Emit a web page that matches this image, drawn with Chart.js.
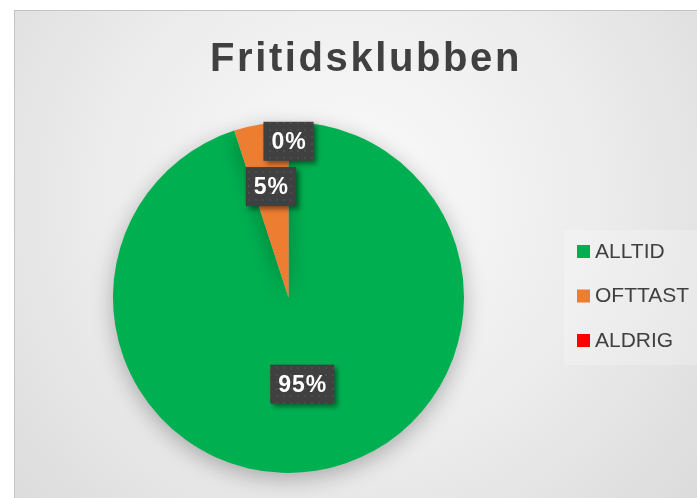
<!DOCTYPE html>
<html lang="sv">
<head>
  <meta charset="UTF-8" />
  <title>Fritidsklubben</title>
  <script src="https://cdn.jsdelivr.net/npm/chart.js"></script>
  <style>
    body {
      margin: 0;
      background: #fff;
      font-family: "Liberation Sans", Arial, sans-serif;
    }
    #frame {
      position: absolute;
      left: 14px;
      top: 10px;
      width: 700px;
      height: 500px;
      border-left: 1px solid #c4c4c4;
      border-top: 1px solid #c4c4c4;
      background: radial-gradient(circle at 335px 190px, #fbfbfb 0px, #ececec 250px, #d6d6d6 520px);
    }
    #chart-container {
      position: absolute;
      left: 0;
      top: 0;
      width: 697px;
      height: 498px;
    }
  </style>
</head>
<body>
  <div id="frame"></div>
  <div id="chart-container">
    <canvas id="pieChart"></canvas>
  </div>

  <script>
    const categories = ['ALLTID', 'OFTTAST', 'ALDRIG'];
    const answers = [19, 1, 0];
    const sliceColors = ['#00b050', '#ed7d31', '#ff0000'];
    const chartTitle = 'Fritidsklubben';

    // dotted dark fill used behind the data labels
    function makePattern(ctx) {
      const p = document.createElement('canvas');
      p.width = 7; p.height = 7;
      const pc = p.getContext('2d');
      pc.fillStyle = '#404040';
      pc.fillRect(0, 0, 7, 7);
      pc.fillStyle = '#4c4c4c';
      pc.fillRect(3, 3, 2, 2);
      return ctx.createPattern(p, 'repeat');
    }

    const pieShadow = {
      id: 'pieShadow',
      beforeDatasetsDraw(chart) {
        const ctx = chart.ctx;
        ctx.save();
        ctx.shadowColor = 'rgba(0,0,0,0.28)';
        ctx.shadowBlur = 22;
        ctx.shadowOffsetY = 6;
      },
      afterDatasetsDraw(chart) {
        chart.ctx.restore();
      }
    };

    const titleAndLegend = {
      id: 'titleAndLegend',
      afterDraw(chart) {
        const ctx = chart.ctx;
        ctx.save();
        ctx.fillStyle = '#404040';
        ctx.font = 'bold 40px "Liberation Sans", Arial, sans-serif';
        ctx.letterSpacing = '2.6px';
        ctx.textAlign = 'center';
        ctx.textBaseline = 'alphabetic';
        ctx.fillText(chartTitle, 366, 71);

        // legend box
        ctx.letterSpacing = '0px';
        ctx.fillStyle = 'rgba(255,255,255,0.22)';
        ctx.fillRect(564, 230, 140, 135);
        ctx.font = '21px "Liberation Sans", Arial, sans-serif';
        ctx.textAlign = 'left';
        ctx.textBaseline = 'middle';
        const ds = chart.data.datasets[0];
        chart.data.labels.forEach((lab, i) => {
          const y = 251 + i * 44.5;
          ctx.fillStyle = ds.backgroundColor[i];
          ctx.fillRect(577, y - 6, 13, 13);
          ctx.fillStyle = '#404040';
          ctx.fillText(lab, 595, y + 1);
        });
        ctx.restore();
      }
    };

    const pctLabels = {
      id: 'pctLabels',
      afterDraw(chart) {
        const ctx = chart.ctx;
        const meta = chart.getDatasetMeta(0);
        const vals = chart.data.datasets[0].data;
        const total = vals.reduce((a, b) => a + b, 0);
        const dist = [0.5, 0.64, 0.89];
        const pattern = makePattern(ctx);
        ctx.save();
        ctx.font = 'bold 23px "Liberation Sans", Arial, sans-serif';
        ctx.letterSpacing = '1px';
        meta.data.forEach((arc, i) => {
          const mid = (arc.startAngle + arc.endAngle) / 2;
          const r = arc.outerRadius * dist[i];
          const x = arc.x + Math.cos(mid) * r;
          const y = arc.y + Math.sin(mid) * r;
          const txt = Math.round(vals[i] / total * 100) + '%';
          const w = ctx.measureText(txt).width + 15;
          const h = 39;
          ctx.save();
          ctx.shadowColor = 'rgba(0,0,0,0.45)';
          ctx.shadowBlur = 5;
          ctx.shadowOffsetX = 3;
          ctx.shadowOffsetY = 3;
          ctx.fillStyle = pattern;
          ctx.fillRect(x - w / 2, y - h / 2, w, h);
          ctx.restore();
          ctx.fillStyle = '#ffffff';
          ctx.textAlign = 'center';
          ctx.textBaseline = 'middle';
          ctx.fillText(txt, x + 0.5, y + 1);
        });
        ctx.restore();
      }
    };

    const ctx = document.getElementById('pieChart').getContext('2d');
    new Chart(ctx, {
      type: 'pie',
      data: {
        labels: categories,
        datasets: [{
          data: answers,
          backgroundColor: sliceColors,
          borderWidth: 0
        }]
      },
      options: {
        responsive: true,
        maintainAspectRatio: false,
        animation: false,
        layout: {
          padding: { left: 113, right: 233, top: 122, bottom: 25 }
        },
        plugins: {
          legend: { display: false },
          title: { display: false },
          tooltip: { enabled: false }
        }
      },
      plugins: [pieShadow, titleAndLegend, pctLabels]
    });
  </script>
</body>
</html>
